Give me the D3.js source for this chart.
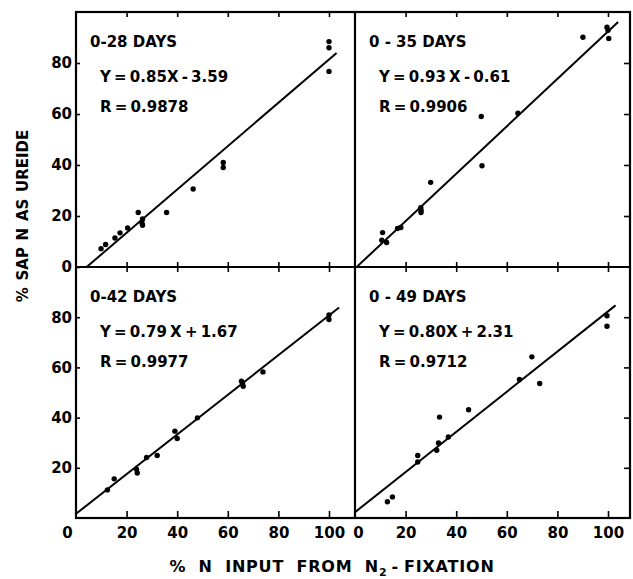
<!DOCTYPE html>
<html>
<head>
<meta charset="utf-8">
<script src="https://cdn.jsdelivr.net/npm/d3@7"></script>
<style>
  body { margin: 0; background: #fff; }
  svg text { font-family: "DejaVu Sans", sans-serif; font-weight: bold; fill: #000; }
</style>
</head>
<body>
<div id="chart"></div>
<script>
// panel labels and regression results
const periods = ["0-28 DAYS", "0 - 35 DAYS", "0-42 DAYS", "0 - 49 DAYS"];
const equations = ["Y = 0.85X - 3.59", "Y = 0.93 X - 0.61", "Y = 0.79 X + 1.67", "Y = 0.80X + 2.31"];
const rLabels = ["R = 0.9878", "R = 0.9906", "R = 0.9977", "R = 0.9712"];
const slopes = [0.85, 0.93, 0.79, 0.80];
const intercepts = [-3.59, -0.61, 1.67, 2.31];
const lineFrom = [4.2, 0.7, 0, 0];
const lineTo = [103, 104, 104, 103];

// observed points [% N from fixation, % sap N as ureide]
const days28 = [[9.9, 7.2], [11.7, 8.8], [15.4, 11.4], [17.4, 13.4], [20.4, 15.3], [24.6, 21.4],
  [26.3, 18.8], [26.1, 17.3], [26.3, 16.4], [35.8, 21.4], [46.3, 30.6], [58.2, 41.0], [58.2, 39.0],
  [100, 88.4], [100, 86.0], [100, 76.7]];
const days35 = [[10.9, 13.5], [10.6, 10.5], [12.5, 9.6], [16.8, 15.1], [18.1, 15.5], [26.0, 23.3],
  [26.1, 22.3], [26.1, 21.4], [29.9, 33.2], [49.9, 59.0], [50.2, 39.7], [64.4, 60.3], [90.1, 90.1],
  [99.6, 94.0], [100, 92.8], [100.3, 89.6]];
const days42 = [[12.4, 11.2], [15.1, 15.6], [23.9, 19.4], [24.2, 17.9], [27.9, 24.1], [32.1, 24.9],
  [39.1, 34.6], [40.0, 31.7], [48.0, 39.9], [65.4, 54.5], [66.1, 52.5], [65.8, 53.5], [73.9, 58.2],
  [100, 80.9], [100, 79.1]];
const days49 = [[12.8, 6.5], [14.8, 8.4], [24.8, 24.9], [24.8, 22.3], [32.3, 27.0], [33.0, 29.9],
  [33.4, 40.2], [36.9, 32.3], [44.9, 43.1], [65.0, 55.2], [69.9, 64.2], [73.0, 53.6], [99.6, 80.6],
  [99.6, 76.4]];
const pointSets = [days28, days35, days42, days49];

const xTicks = [0, 20, 40, 60, 80, 100];
const yTicks = [0, 20, 40, 60, 80];

const W = 633, H = 579;
const cols = [76, 355, 630];
const rows = [12, 267, 518];
const unitX = 2.53; // px per x unit

const svg = d3.select("#chart").append("svg")
  .attr("width", W).attr("height", H);

svg.append("rect").attr("width", W).attr("height", H).attr("fill", "#fff");

function styleAxis(g) {
  g.select(".domain").remove();
  g.selectAll(".tick line").attr("stroke", "#000").attr("stroke-width", 1.6);
  g.selectAll(".tick text").attr("font-size", 15).attr("font-family", "DejaVu Sans").attr("font-weight", "bold");
}

periods.forEach((label, i) => {
  const c = i % 2, r = Math.floor(i / 2);
  const x0 = cols[c], x1 = cols[c + 1], y0 = rows[r], y1 = rows[r + 1];
  const x = d3.scaleLinear().domain([0, 100]).range([x0, x0 + 100 * unitX]);
  const y = d3.scaleLinear().domain([0, 100]).range([y1, y0]);

  // left axis with labels (left column only)
  if (c === 0) {
    svg.append("g").attr("transform", `translate(${x0},0)`)
      .call(d3.axisLeft(y).tickValues(r === 0 ? yTicks : yTicks.slice(1)).tickSize(-4).tickPadding(4))
      .call(styleAxis);
  } else {
    svg.append("g").attr("transform", `translate(${x1},0)`)
      .call(d3.axisRight(y).tickValues(yTicks.slice(1)).tickSize(-6).tickFormat(""))
      .call(styleAxis);
  }

  if (r === 0) {
    svg.append("g").attr("transform", `translate(0,${y0})`)
      .call(d3.axisTop(x).tickValues(xTicks.slice(1)).tickSize(-5).tickFormat(""))
      .call(styleAxis);
    svg.append("g").attr("transform", `translate(0,${y1 - 5})`)
      .call(d3.axisBottom(x).tickValues(xTicks.slice(1)).tickSize(10).tickFormat(""))
      .call(styleAxis);
  } else {
    const ax = svg.append("g").attr("transform", `translate(0,${y1})`)
      .call(d3.axisBottom(x).tickValues(xTicks).tickSize(-7).tickPadding(9))
      .call(styleAxis);
    ax.selectAll(".tick").filter(d => d === 0).select("line").remove();
    ax.selectAll(".tick text").filter(d => d === 0).attr("dx", c === 0 ? -9 : 3);
  }

  // regression line
  const fit = [lineFrom[i], lineTo[i]].map(v => [v, slopes[i] * v + intercepts[i]]);
  svg.append("path")
    .attr("d", d3.line().x(d => x(d[0])).y(d => y(d[1]))(fit))
    .attr("stroke", "#000").attr("stroke-width", 2).attr("fill", "none");

  svg.append("g").selectAll("circle")
    .data(pointSets[i])
    .join("circle")
    .attr("cx", d => x(d[0]))
    .attr("cy", d => y(d[1]))
    .attr("r", 2.7)
    .attr("fill", "#000");

  svg.append("text").attr("x", x0 + 14).attr("y", y0 + 35).attr("font-size", 15).text(label);
  svg.append("text").attr("x", x0 + 24).attr("y", y0 + 70).attr("font-size", 15)
    .attr("word-spacing", -2).text(equations[i]);
  svg.append("text").attr("x", x0 + 24).attr("y", y0 + 100).attr("font-size", 15)
    .attr("word-spacing", -2).text(rLabels[i]);
});

// frame
svg.append("rect")
  .attr("x", cols[0]).attr("y", rows[0])
  .attr("width", cols[2] - cols[0]).attr("height", rows[2] - rows[0])
  .attr("fill", "none").attr("stroke", "#000").attr("stroke-width", 2.2);
svg.append("line").attr("x1", cols[1]).attr("x2", cols[1]).attr("y1", rows[0]).attr("y2", rows[2])
  .attr("stroke", "#000").attr("stroke-width", 2.2);
svg.append("line").attr("x1", cols[0]).attr("x2", cols[2]).attr("y1", rows[1]).attr("y2", rows[1])
  .attr("stroke", "#000").attr("stroke-width", 2.2);

// axis titles
svg.append("text")
  .attr("transform", "translate(28,216) rotate(-90)")
  .attr("text-anchor", "middle").attr("font-size", 15).attr("word-spacing", 1.5)
  .text("% SAP N AS UREIDE");

const xt = svg.append("text")
  .attr("x", 332).attr("y", 572)
  .attr("text-anchor", "middle").attr("font-size", 16)
  .attr("letter-spacing", 0.8).attr("word-spacing", 6);
xt.append("tspan").text("% N INPUT FROM N");
xt.append("tspan").attr("font-size", 11).attr("dy", 4).text("2");
xt.append("tspan").attr("dy", -4).attr("dx", 4).text("-");
xt.append("tspan").attr("dx", 5).text("FIXATION");
</script>
</body>
</html>
